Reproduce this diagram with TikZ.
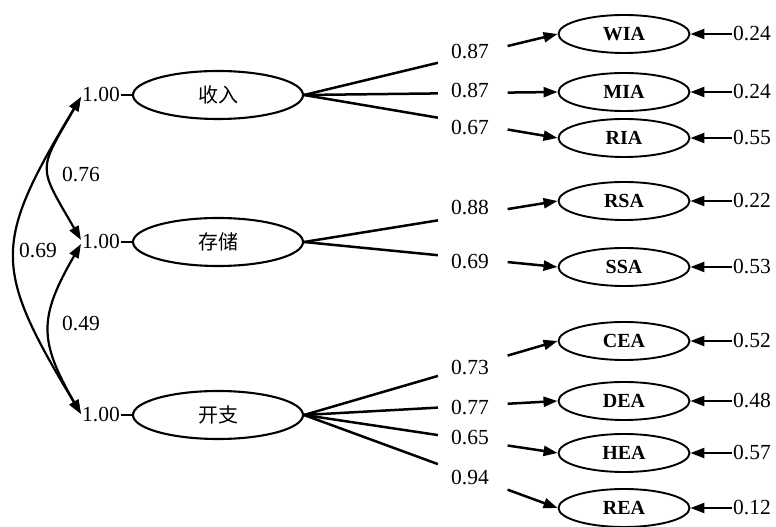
\documentclass[tikz,border=0pt]{standalone}
\usepackage{fontspec}
\setmainfont{Liberation Serif}
\newfontfamily\cjk{Noto Sans CJK SC}
\usetikzlibrary{arrows.meta,calc,shapes.geometric}
\begin{document}
\begin{tikzpicture}[x=1pt,y=1pt,
  lat/.style={draw,ellipse,line width=2.1pt,minimum width=170pt,minimum height=48pt,inner sep=0pt,font=\cjk\fontsize{20}{20}\selectfont},
  ind/.style={draw,ellipse,line width=1.9pt,minimum width=131pt,minimum height=38pt,inner sep=0pt,font=\bfseries\fontsize{20}{20}\selectfont},
  num/.style={inner sep=1pt,font=\fontsize{21.5}{21.5}\selectfont},
  ln/.style={line width=2.5pt},
  arr/.style={line width=2.5pt,-{Triangle[length=14pt,width=10pt]}},
  dbl/.style={line width=2.2pt,{Triangle[length=14pt,width=10pt]}-{Triangle[length=14pt,width=10pt]}},
  tick/.style={line width=1.3pt}
]
\useasboundingbox (0,0) rectangle (776,527);
% latent variables
\node[lat] (L1) at (218,432) {收入};
\node[lat] (L2) at (218,285) {存储};
\node[lat] (L3) at (218,112) {开支};
\node[num] (o1) at (101,432) {1.00};
\node[num] (o2) at (101,285) {1.00};
\node[num] (o3) at (101,112) {1.00};
\foreach \o/\l in {o1/L1,o2/L2,o3/L3} \draw[tick] (\o.east) -- (\l.west);
% indicators
\foreach \n/\y/\e in {WIA/493/0.24, MIA/435/0.24, RIA/389/0.55, RSA/326/0.22, SSA/260/0.53,
                     CEA/186/0.52, DEA/126/0.48, HEA/74/0.57, REA/19/0.12}{
  \node[ind] (\n) at (624,\y) {\n};
  \node[num] (e\n) at (752,\y) {\e};
  \draw[arr] (e\n.west) -- (\n.east);
}
% loadings
\foreach \l/\i/\y/\v in {L1/WIA/475/0.87, L1/MIA/436/0.87, L1/RIA/399/0.67,
                        L2/RSA/319/0.88, L2/SSA/265/0.69,
                        L3/CEA/159/0.73, L3/DEA/119/0.77, L3/HEA/89/0.65, L3/REA/49/0.94}{
  \node[num] (p\i) at (470,\y) {\v};
  \draw[ln] (\l.east) -- ($(\l.east)!0.528!(\i.west)$);
  \draw[arr] ($(\l.east)!0.803!(\i.west)$) -- (\i.west);
}
% correlations
\draw[dbl] ([yshift=-2pt]o1.west) to[out=240,in=120,looseness=1.56] ([yshift=2pt]o2.west);
\draw[dbl] ([yshift=-2pt]o1.west) to[out=239,in=121,looseness=1.39] ([yshift=1pt]o3.west);
\draw[dbl] ([yshift=-2pt]o2.west) to[out=240,in=120,looseness=1.28] ([yshift=1pt]o3.west);
\node[num] (c1) at (81,352) {0.76};
\node[num] (c2) at (38,276) {0.69};
\node[num] (c3) at (81,203) {0.49};
\end{tikzpicture}
\end{document}
